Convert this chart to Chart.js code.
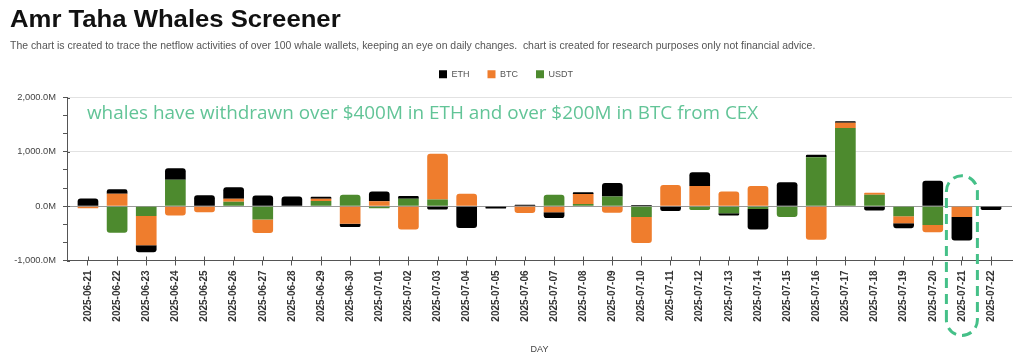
<!DOCTYPE html>
<html>
<head>
<meta charset="utf-8">
<script src="https://cdn.jsdelivr.net/npm/chart.js@4.4.1/dist/chart.umd.min.js"></script>
<style>
html,body{margin:0;padding:0;background:#fff;width:1024px;height:355px;overflow:hidden}
#wrap{position:relative;width:1024px;height:355px}
#c{position:absolute;left:0;top:0}
h1{position:absolute;left:10px;top:7px;margin:0;font:bold 24px/24px "Liberation Sans",Arial,sans-serif;color:#111;white-space:nowrap;transform:scaleX(1.07);transform-origin:0 0}
.sub{position:absolute;left:10px;top:40px;margin:0;font:10.45px/12px "Liberation Sans",Arial,sans-serif;color:#555;white-space:pre}
</style>
</head>
<body>
<div id="wrap">
<canvas id="c" width="1024" height="355"></canvas>
<h1>Amr Taha Whales Screener</h1>
<p class="sub">The chart is created to trace the netflow activities of over 100 whale wallets, keeping an eye on daily changes.  chart is created for research purposes only not financial advice.</p>
</div>
<script>
// ---- data (values in millions USD) ----
const days = ['2025-06-21','2025-06-22','2025-06-23','2025-06-24','2025-06-25','2025-06-26','2025-06-27','2025-06-28','2025-06-29','2025-06-30',
  '2025-07-01','2025-07-02','2025-07-03','2025-07-04','2025-07-05','2025-07-06','2025-07-07','2025-07-08','2025-07-09','2025-07-10',
  '2025-07-11','2025-07-12','2025-07-13','2025-07-14','2025-07-15','2025-07-16','2025-07-17','2025-07-18','2025-07-19','2025-07-20',
  '2025-07-21','2025-07-22'];
const usdt = [0,-490,-180,485,0,80,-245,0,95,210, -40,135,125,0,0,0,210,40,180,-200, 0,-70,-130,-50,-200,900,1440,210,-185,-345, 0,0];
const btc  = [-40,230,-540,-170,-110,55,-250,0,40,-325, 90,-430,840,227,0,-125,-110,185,-120,-480, 390,370,270,370,0,-620,95,35,-130,-135, -200,0];
const eth  = [140,80,-130,215,200,215,195,180,40,-60, 180,50,-60,-400,-45,25,-110,30,245,20, -90,255,-40,-380,440,45,30,-80,-90,470, -430,-70];
const yLabelTicks = [-1000, 0, 1000, 2000];
const annotationText = 'whales have withdrawn over $400M in ETH and over $200M in BTC from CEX';
const annotationValue = 1600;     // y value of text baseline
const highlightDay = '2025-07-21';
const highlightTop = 560;         // y value of top of highlight pill

const toXY = arr => arr.map((v, i) => ({x: i, y: v}));
const FONT = '"Liberation Sans", Arial, sans-serif';

const overlay = {
  id: 'overlay',
  afterDraw(chart) {
    const ctx = chart.ctx, xs = chart.scales.x, ys = chart.scales.y, ca = chart.chartArea;
    ctx.save();
    // tick marks crossing the axes
    ctx.strokeStyle = '#555'; ctx.lineWidth = 1;
    days.forEach((d, i) => {
      const px = Math.round(xs.getPixelForValue(i)) + 0.5;
      ctx.beginPath(); ctx.moveTo(px, ca.bottom - 4); ctx.lineTo(px, ca.bottom); ctx.stroke();
    });
    yLabelTicks.forEach(v => {
      const py = Math.round(ys.getPixelForValue(v)) + 0.5;
      ctx.beginPath(); ctx.moveTo(ca.left, py); ctx.lineTo(ca.left + 3, py); ctx.stroke();
    });
    // annotation text
    ctx.fillStyle = '#62c497';
    ctx.font = '18.9px "Open Sans", sans-serif';
    ctx.textBaseline = 'alphabetic'; ctx.textAlign = 'left';
    ctx.fillText(annotationText, xs.getPixelForValue(0) - 1, ys.getPixelForValue(annotationValue));
    // highlight pill
    const cx = xs.getPixelForValue(days.indexOf(highlightDay));
    const r = 15.5;
    const top = ys.getPixelForValue(highlightTop);
    const bottom = ca.bottom + 75;
    ctx.strokeStyle = '#45c088'; ctx.lineWidth = 3; ctx.setLineDash([10, 6]);
    ctx.beginPath();
    ctx.moveTo(cx - r, bottom - r);
    ctx.lineTo(cx - r, top + r);
    ctx.arc(cx, top + r, r, Math.PI, 0);
    ctx.lineTo(cx + r, bottom - r);
    ctx.arc(cx, bottom - r, r, 0, Math.PI);
    ctx.stroke();
    ctx.restore();
  }
};

new Chart(document.getElementById('c'), {
  type: 'bar',
  data: {
    datasets: [
      {label: 'USDT', data: toXY(usdt), backgroundColor: '#4d8a2e'},
      {label: 'BTC',  data: toXY(btc),  backgroundColor: '#ef7d2d'},
      {label: 'ETH',  data: toXY(eth),  backgroundColor: '#000000'}
    ]
  },
  options: {
    responsive: false,
    animation: false,
    devicePixelRatio: 1,
    layout: {padding: {top: 51.7, left: 0, right: 12, bottom: 0}},
    datasets: {bar: {barPercentage: 0.71, categoryPercentage: 1, borderRadius: 3}},
    plugins: {
      tooltip: {enabled: false},
      legend: {
        position: 'top', reverse: true,
        labels: {boxWidth: 8, boxHeight: 8, padding: 18, color: '#555', font: {family: FONT, size: 9}}
      },
      subtitle: {display: true, text: '', weight: 500, padding: 0, font: {size: 8, lineHeight: 1.1}}
    },
    scales: {
      x: {
        type: 'linear', stacked: true, min: -0.72, max: 31.72, offset: false,
        afterBuildTicks: s => { s.ticks = days.map((d, i) => ({value: i})); },
        afterFit: s => { s.height = 94.5; },
        grid: {drawOnChartArea: false, tickLength: 5, color: '#555', offset: false},
        border: {display: true, color: '#555'},
        ticks: {
          autoSkip: false, minRotation: 90, maxRotation: 90, padding: 5,
          color: '#333', font: {family: FONT, size: 10, weight: 'bold'},
          callback: v => days[v]
        },
        title: {display: true, text: 'DAY', color: '#444', font: {family: FONT, size: 9}, padding: {top: 0, bottom: 0}}
      },
      y: {
        stacked: true, min: -1000, max: 2000,
        afterBuildTicks: s => {
          const t = [];
          yLabelTicks.forEach((v, k) => {
            t.push({value: v});
            if (k < yLabelTicks.length - 1) {
              const step = (yLabelTicks[k + 1] - v) / 3;
              t.push({value: v + step}, {value: v + 2 * step});
            }
          });
          s.ticks = t;
        },
        afterFit: s => { s.width = 67; },
        border: {display: true, color: '#555'},
        grid: {
          tickLength: 4, tickColor: '#555',
          color: c => {
            const v = c.tick ? Math.round(c.tick.value) : null;
            if (v === 0) return '#9a9a9a';
            if (v === 1000 || v === 2000) return '#e2e2e2';
            return 'rgba(0,0,0,0)';
          }
        },
        ticks: {
          padding: 7, color: '#444', font: {family: FONT, size: 9.3},
          callback: v => yLabelTicks.includes(Math.round(v))
            ? Math.round(v).toLocaleString('en-US', {minimumFractionDigits: 1, maximumFractionDigits: 1}) + 'M' : ''
        }
      }
    }
  },
  plugins: [overlay]
});
</script>
</body>
</html>
